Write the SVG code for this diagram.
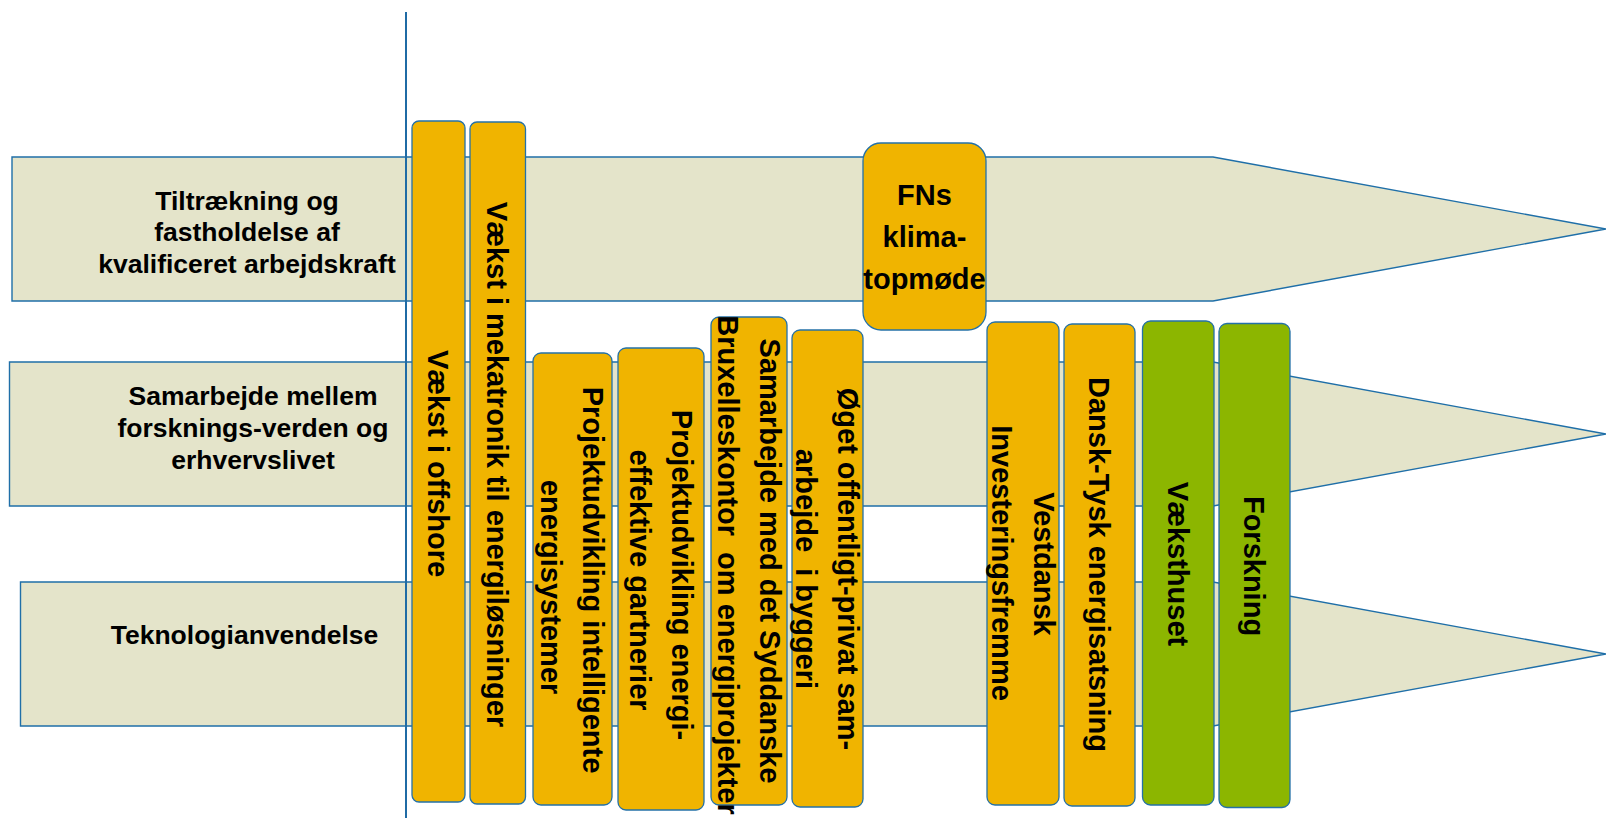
<svg xmlns="http://www.w3.org/2000/svg" width="1606" height="818" viewBox="0 0 1606 818">
<defs>
<style>
.arrow{fill:#E4E4CA;stroke:#1F6FA8;stroke-width:1.4}
.box{fill:#F0B400;stroke:#2471A8;stroke-width:1.3}
.gbox{fill:#8CB600;stroke:#2471A8;stroke-width:1.3}
.lbl{font-family:"Liberation Sans",Arial,sans-serif;font-weight:bold;font-size:26.5px;fill:#000;text-anchor:middle}
.bt{font-family:"Liberation Sans",Arial,sans-serif;font-weight:bold;font-size:29px;fill:#000;text-anchor:middle}
</style>
</defs>
<rect width="1606" height="818" fill="#fff"/>
<g id="arrow-1">
<polygon class="arrow" points="12,157 1213,157 1606,229 1213,301 12,301"/>
<text class="lbl" x="247" y="209.5">Tiltrækning og</text>
<text class="lbl" x="247" y="241">fastholdelse af</text>
<text class="lbl" x="247" y="272.5">kvalificeret arbejdskraft</text>
</g>
<g id="arrow-2">
<polygon class="arrow" points="9.5,362 1213,362 1606,434 1213,506 9.5,506"/>
<text class="lbl" x="253" y="405">Samarbejde mellem</text>
<text class="lbl" x="253" y="437">forsknings-verden og</text>
<text class="lbl" x="253" y="469">erhvervslivet</text>
</g>
<g id="arrow-3">
<polygon class="arrow" points="20.5,582 1213,582 1606,654 1213,726 20.5,726"/>
<text class="lbl" x="244.5" y="644">Teknologianvendelse</text>
</g>
<g id="connectors">
<line x1="406" y1="12" x2="406" y2="818" stroke="#1F6BA5" stroke-width="2"/>
</g>
<g id="box-offshore">
<rect class="box" x="412" y="121" width="53" height="681" rx="7"/>
<text class="bt" transform="translate(438.5,463.5) rotate(90)" x="0" y="10.4">Vækst i offshore</text>
</g>
<g id="box-mekatronik">
<rect class="box" x="470" y="122" width="55.5" height="682" rx="7"/>
<text class="bt" transform="translate(497.8,464.5) rotate(90)" x="0" y="10.4">Vækst i mekatronik til energiløsninger</text>
</g>
<g id="box-intelligente">
<rect class="box" x="533" y="353" width="79" height="452" rx="8"/>
<g transform="translate(572.5,579) rotate(90)">
<text class="bt" x="1" y="-10.6">Projektudvikling intelligente</text>
<text class="bt" x="8" y="31.4">energisystemer</text>
</g>
</g>
<g id="box-gartnerier">
<rect class="box" x="618" y="348" width="86" height="462" rx="8"/>
<g transform="translate(661,579) rotate(90)">
<text class="bt" x="-4" y="-10.6">Projektudvikling energi-</text>
<text class="bt" x="1" y="31.4">effektive gartnerier</text>
</g>
</g>
<g id="box-bruxelles">
<rect class="box" x="711" y="317" width="76" height="488" rx="8"/>
<g transform="translate(749,561) rotate(90)">
<text class="bt" x="0" y="-10.6">Samarbejde med det Syddanske</text>
<text class="bt" x="4" y="31.4" xml:space="preserve">Bruxelleskontor  om energiprojekter</text>
</g>
</g>
<g id="box-byggeri">
<rect class="box" x="792" y="330" width="71" height="477" rx="8"/>
<g transform="translate(827.5,569) rotate(90)">
<text class="bt" x="0" y="-10.6">Øget offentligt-privat sam-</text>
<text class="bt" x="0" y="31.4" xml:space="preserve">arbejde  i byggeri</text>
</g>
</g>
<g id="box-fn">
<rect class="box" x="863" y="143" width="123" height="187" rx="18"/>
<text class="bt" x="924.5" y="205">FNs</text>
<text class="bt" x="924.5" y="247">klima-</text>
<text class="bt" x="924.5" y="289">topmøde</text>
</g>
<g id="box-vestdansk">
<rect class="box" x="987" y="322" width="72" height="483" rx="8"/>
<g transform="translate(1023,563.5) rotate(90)">
<text class="bt" x="0.5" y="-10.6">Vestdansk</text>
<text class="bt" x="-0.5" y="31.4">Investeringsfremme</text>
</g>
</g>
<g id="box-dansk-tysk">
<rect class="box" x="1064" y="324" width="71" height="482" rx="8"/>
<text class="bt" transform="translate(1099.5,564.5) rotate(90)" x="0" y="10.4">Dansk-Tysk energisatsning</text>
</g>
<g id="box-vaeksthuset">
<rect class="gbox" x="1142.5" y="321" width="71.5" height="484" rx="8"/>
<text class="bt" transform="translate(1178.2,564) rotate(90)" x="0" y="10.4">Væksthuset</text>
</g>
<g id="box-forskning">
<rect class="gbox" x="1219" y="323.5" width="71" height="484" rx="8"/>
<text class="bt" transform="translate(1254.5,566) rotate(90)" x="0" y="10.4">Forskning</text>
</g>
</svg>
